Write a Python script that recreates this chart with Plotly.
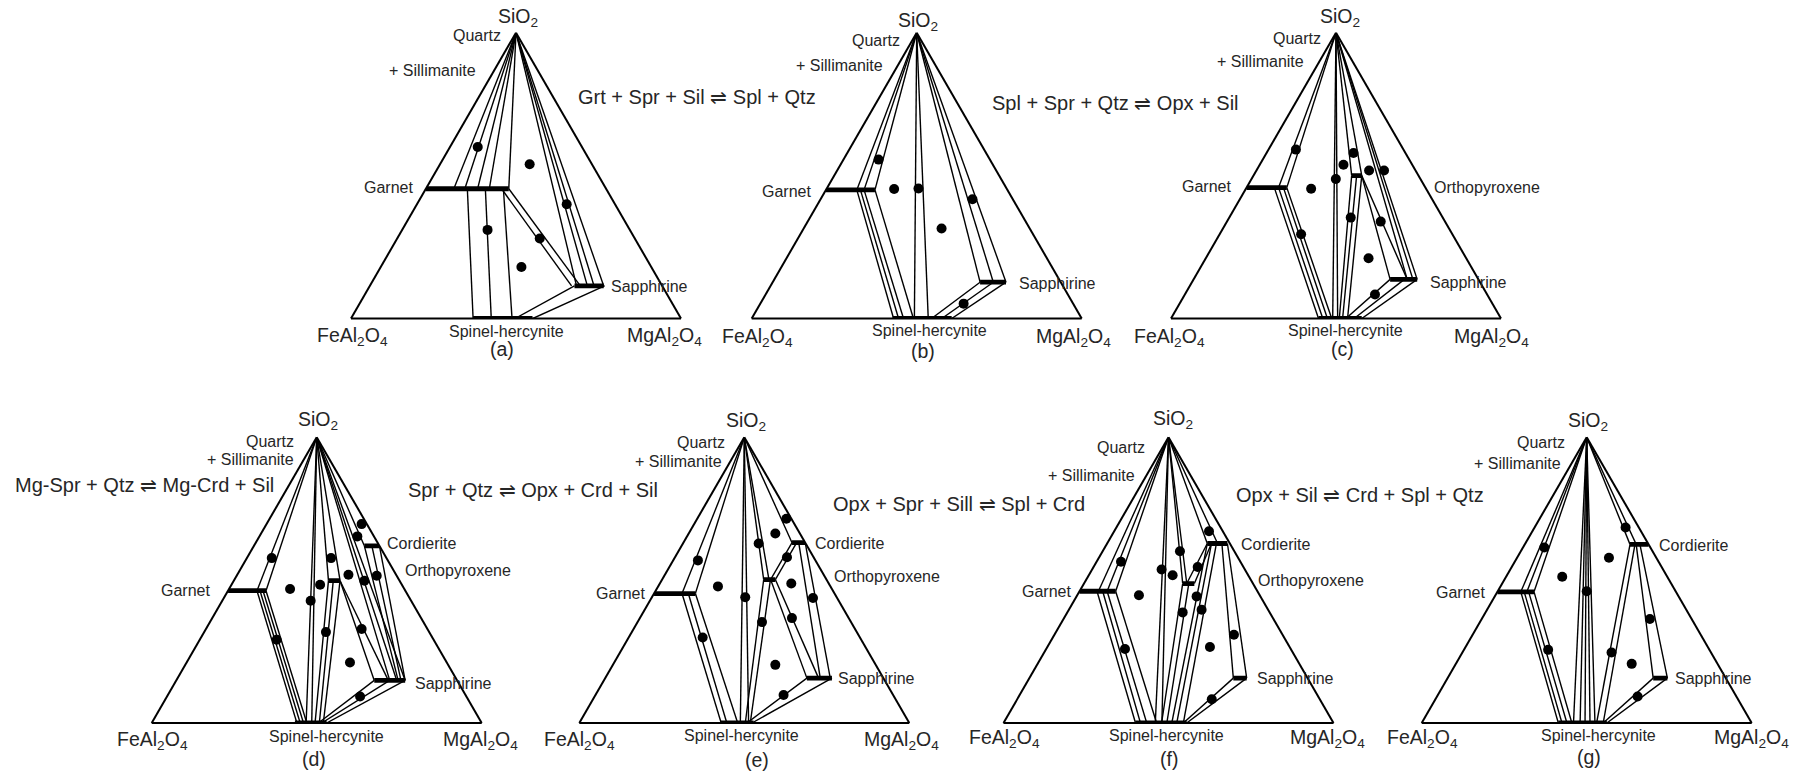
import math
import plotly.graph_objects as go

# ---------------------------------------------------------------------------
# Data. Every composition is given as (SiO2 fraction, XMg = Mg/(Mg+Fe)).
# SiO2 = 1 is the quartz apex.  Bars: (SiO2, XMg from, XMg to) solid solutions.
# Ties: (SiO2_1, XMg_1, SiO2_2, XMg_2) tie lines.  Dots: bulk compositions.
# ---------------------------------------------------------------------------
A_BARS = [(0.454, 0.00, 0.46), (0.0, 0.37, 0.55), (0.114, 0.70, 0.80)]
A_TIES = [
    (1, .5, .454, .155), (1, .5, .454, .216), (1, .5, .454, .287), (1, .5, .454, .352), (1, .5, .454, .46),
    (.454, .23, 0, .37), (.454, .33, 0, .425), (.454, .43, 0, .488),
    (.454, .42, .114, .69), (.454, .46, .114, .72),
    (1, .5, .114, .707), (1, .5, .114, .744), (1, .5, .114, .767), (1, .5, .114, .80),
    (0, .497, .114, .70), (0, .551, .114, .803)]
A_DOT_S = [0.60, 0.54, 0.40, 0.31, 0.28, 0.18]
A_DOT_X = [0.21, 0.59, 0.756, 0.375, 0.60, 0.52]

B_BARS = [(0.45, 0.0, 0.27), (0.0, 0.427, 0.606), (0.127, 0.72, 0.81)]
B_TIES = [
    (1, .5, .45, .17), (1, .5, .45, .21), (1, .5, .45, .27),
    (.45, .17, 0, .43), (.45, .19, 0, .445), (.45, .21, 0, .46), (.45, .27, 0, .49),
    (1, .5, 0, .493), (1, .5, 0, .535),
    (1, .5, .127, .72), (1, .5, .127, .766), (1, .5, .127, .81),
    (0, .545, .127, .72), (0, .576, .127, .766), (0, .606, .127, .81)]
B_DOT_S = [0.556, 0.453, 0.455, 0.417, 0.315, 0.052]
B_DOT_X = [0.24, 0.375, 0.51, 0.79, 0.61, 0.65]

C_BARS = [(0.458, 0, 0.225), (0, 0.447, 0.578), (0.50, 0.595, 0.656), (0.137, 0.69, 0.785)]
C_TIES = [
    (1, .5, .458, .179), (1, .5, .458, .225),
    (.458, .155, 0, .447), (.458, .179, 0, .46), (.458, .206, 0, .474), (.458, .225, 0, .487),
    (1, .5, 0, .49), (1, .5, 0, .505),
    (1, .5, .50, .595), (1, .5, .50, .656),
    (.50, .595, 0, .51), (.50, .625, 0, .52), (.50, .656, 0, .535),
    (.50, .656, .137, .69), (.50, .656, .137, .75),
    (1, .5, .137, .75), (1, .5, .137, .77), (1, .5, .137, .785),
    (0, .53, .137, .69), (0, .555, .137, .74), (0, .578, .137, .785)]
C_DOT_S = [0.591, 0.454, 0.488, 0.538, 0.579, 0.518, 0.518, 0.353, 0.339, 0.295, 0.211, 0.084]
C_DOT_X = [0.203, 0.362, 0.499, 0.549, 0.626, 0.708, 0.802, 0.569, 0.705, 0.35, 0.625, 0.629]

D_BARS = [(0.463, 0, 0.214), (0, 0.434, 0.53), (0.498, 0.571, 0.641), (0.62, 0.88, 1.0), (0.149, 0.705, 0.815)]
D_TIES = [
    (1, .5, .463, .163), (1, .5, .463, .214),
    (.463, .163, 0, .44), (.463, .18, 0, .45), (.463, .197, 0, .46), (.463, .214, 0, .47),
    (1, .5, 0, .468), (1, .5, 0, .485),
    (1, .5, .498, .571), (1, .5, .498, .641),
    (.498, .571, 0, .495), (.498, .60, 0, .508), (.498, .641, 0, .52),
    (.498, .641, .149, .705), (.498, .641, .149, .755),
    (1, .5, .149, .76), (1, .5, .149, .785), (1, .5, .149, .815),
    (1, .5, .62, .88),
    (.62, .88, .149, .79), (.62, .94, .149, .80), (.62, 1.0, .149, .815),
    (0, .505, .149, .705), (0, .515, .149, .76), (0, .53, .149, .815)]
D_DOT_S = [0.696, 0.653, 0.577, 0.519, 0.484, 0.498, 0.515, 0.428, 0.318, 0.329, 0.212, 0.093, 0.577, 0.291, 0.469]
D_DOT_X = [0.948, 0.855, 0.603, 0.70, 0.52, 0.788, 0.875, 0.468, 0.541, 0.703, 0.628, 0.645, 0.178, 0.329, 0.348]

E_BARS = [(0.453, 0, 0.229), (0, 0.427, 0.528), (0.502, 0.618, 0.689), (0.631, 0.892, 1.0), (0.157, 0.725, 0.815)]
E_TIES = [
    (1, .5, .453, .155), (1, .5, .453, .229),
    (.453, .155, 0, .43), (.453, .19, 0, .447), (.453, .229, 0, .48),
    (1, .5, 0, .488), (1, .5, 0, .513),
    (1, .5, .502, .618), (1, .5, .502, .65),
    (.502, .618, 0, .503), (.502, .659, 0, .518),
    (.502, .66, .631, .892), (.502, .689, .631, .93),
    (.502, .66, .157, .725), (.502, .689, .157, .767),
    (.631, .947, .157, .773), (.631, 1.0, .157, .809),
    (1, .5, .631, .892),
    (0, .508, .157, .725), (0, .523, .157, .815)]
E_DOT_S = [0.715, 0.663, 0.628, 0.58, 0.488, 0.44, 0.4375, 0.353, 0.367, 0.2035, 0.098, 0.569, 0.478, 0.299]
E_DOT_X = [0.947, 0.779, 0.617, 0.808, 0.778, 0.505, 0.87, 0.583, 0.728, 0.618, 0.632, 0.174, 0.347, 0.32]

F_BARS = [(0.461, 0, 0.203), (0, 0.40, 0.555), (0.488, 0.584, 0.653), (0.628, 0.816, 0.98), (0.157, 0.733, 0.781)]
F_TIES = [
    (1, .5, .461, .106), (1, .5, .461, .155), (1, .5, .461, .203),
    (.461, .098, 0, .40), (.461, .13, 0, .415), (.461, .155, 0, .434), (.461, .203, 0, .464),
    (1, .5, 0, .46), (1, .5, 0, .48),
    (1, .5, .488, .584), (1, .5, .488, .608),
    (.488, .584, 0, .479), (.488, .62, 0, .495),
    (.488, .608, .628, .816), (.488, .653, .628, .85),
    (.628, .816, 0, .51), (.628, .85, 0, .525), (.628, .89, 0, .545),
    (1, .5, .628, .816), (1, .5, .628, .90),
    (.628, .935, .157, .733), (.628, .98, .157, .781),
    (0, .545, .157, .733), (0, .555, .157, .781)]
F_DOT_S = [0.671, 0.601, 0.537, 0.517, 0.546, 0.443, 0.387, 0.396, 0.309, 0.266, 0.083, 0.564, 0.447, 0.259]
F_DOT_X = [0.873, 0.587, 0.455, 0.526, 0.695, 0.653, 0.57, 0.666, 0.787, 0.671, 0.643, 0.17, 0.338, 0.322]

G_BARS = [(0.459, 0, 0.205), (0, 0.414, 0.561), (0.625, 0.85, 1.0), (0.157, 0.739, 0.79)]
G_TIES = [
    (1, .5, .459, .131), (1, .5, .459, .165), (1, .5, .459, .205),
    (.459, .131, 0, .414), (.459, .15, 0, .425), (.459, .175, 0, .44), (.459, .205, 0, .455),
    (1, .5, 0, .46), (1, .5, 0, .48), (1, .5, 0, .495), (1, .5, 0, .51), (1, .5, 0, .525),
    (.625, .85, 0, .53), (.625, .89, 0, .55),
    (1, .5, .625, .85), (1, .5, .625, .90),
    (.625, .90, .157, .739), (.625, .93, .157, .79),
    (0, .55, .157, .739), (0, .561, .157, .79)]
G_DOT_S = [0.684, 0.5785, 0.461, 0.364, 0.247, 0.207, 0.0925, 0.614, 0.512, 0.256]
G_DOT_X = [0.873, 0.66, 0.50, 0.801, 0.60, 0.672, 0.67, 0.167, 0.348, 0.343]

REACTIONS = ["Grt + Spr + Sil \u21cc Spl + Qtz",
             "Spl + Spr + Qtz \u21cc Opx + Sil",
             "Mg-Spr + Qtz \u21cc Mg-Crd + Sil",
             "Spr + Qtz \u21cc Opx + Crd + Sil",
             "Opx + Spr + Sill \u21cc Spl + Crd",
             "Opx + Sil \u21cc Crd + Spl + Qtz"]
PANEL_TAGS = ["(a)", "(b)", "(c)", "(d)", "(e)", "(f)", "(g)"]

# ---------------------------------------------------------------------------
# Layout (pixels of the 1803 x 775 page)
# ---------------------------------------------------------------------------
FIG_W, FIG_H = 1803, 775
SIDE = 330.0
TRI_H = SIDE * math.sqrt(3) / 2
PANEL_CX = [516, 916.7, 1336, 316.7, 744.3, 1168.5, 1586.7]
PANEL_BASE = [318.5, 318.5, 318.5, 723, 723, 723, 723]

PANELS = [
    (A_BARS, A_TIES, A_DOT_S, A_DOT_X),
    (B_BARS, B_TIES, B_DOT_S, B_DOT_X),
    (C_BARS, C_TIES, C_DOT_S, C_DOT_X),
    (D_BARS, D_TIES, D_DOT_S, D_DOT_X),
    (E_BARS, E_TIES, E_DOT_S, E_DOT_X),
    (F_BARS, F_TIES, F_DOT_S, F_DOT_X),
    (G_BARS, G_TIES, G_DOT_S, G_DOT_X),
]


def abc(s, x):
    """SiO2 fraction + XMg -> (SiO2, FeAl2O4, MgAl2O4)."""
    return s, (1 - s) * (1 - x), (1 - s) * x


def segs(pairs):
    a, b, c = [], [], []
    for p, q in pairs:
        for pt in (p, q):
            aa, bb, cc = abc(*pt)
            a.append(aa); b.append(bb); c.append(cc)
        a.append(None); b.append(None); c.append(None)
    return a, b, c


fig = go.Figure()
axis_style = dict(showline=True, linecolor="black", linewidth=2, showgrid=False,
                  showticklabels=False, ticks="", title=dict(text=""), min=0)
layout_ternaries = {}

for i, (bars, ties, ds, dx) in enumerate(PANELS):
    key = "ternary" if i == 0 else f"ternary{i + 1}"
    cx, yb = PANEL_CX[i], PANEL_BASE[i]
    layout_ternaries[key] = dict(
        domain=dict(x=[(cx - SIDE / 2) / FIG_W, (cx + SIDE / 2) / FIG_W],
                    y=[1 - yb / FIG_H, 1 - (yb - TRI_H) / FIG_H]),
        sum=1, bgcolor="white",
        aaxis=axis_style, baxis=axis_style, caxis=axis_style)

    ta, tb, tc = segs([((t[0], t[1]), (t[2], t[3])) for t in ties])
    fig.add_trace(go.Scatterternary(a=ta, b=tb, c=tc, mode="lines", subplot=key,
                                    line=dict(color="black", width=1.4),
                                    cliponaxis=False, hoverinfo="skip"))
    ba, bb, bc = segs([((t[0], t[1]), (t[0], t[2])) for t in bars])
    fig.add_trace(go.Scatterternary(a=ba, b=bb, c=bc, mode="lines", subplot=key,
                                    line=dict(color="black", width=4.8),
                                    cliponaxis=False, hoverinfo="skip"))
    pa, pb, pc = zip(*[abc(s, x) for s, x in zip(ds, dx)])
    fig.add_trace(go.Scatterternary(a=list(pa), b=list(pb), c=list(pc), mode="markers",
                                    subplot=key, marker=dict(color="black", size=10),
                                    cliponaxis=False, hoverinfo="skip"))

FONT = "Liberation Sans, Arial, Helvetica, sans-serif"
TXT = "#262626"
annotations = []


def lab(text, x, y, size, anchor="center"):
    annotations.append(dict(text=text, x=x / FIG_W, y=1 - y / FIG_H, xref="paper", yref="paper",
                            xanchor=anchor, yanchor="middle", showarrow=False,
                            font=dict(family=FONT, size=size, color=TXT)))


SIO2 = "SiO<sub>2</sub>"
FEAL = "FeAl<sub>2</sub>O<sub>4</sub>"
MGAL = "MgAl<sub>2</sub>O<sub>4</sub>"
BIG, SMALL, REAC = 19.5, 16, 20

# per-panel label placement (page pixels)
SIO2_POS = [(518, 18), (918, 21), (1340, 18), (318, 420), (746, 421), (1173, 419), (1588, 421)]
QTZ_POS = [(503, 35), (902, 40), (1323, 38), (296, 441), (727, 442), (1147, 447), (1567, 442)]
SIL_POS = [(478, 70), (885, 65), (1306, 61), (296, 459), (724, 461), (1137, 476), (1563, 463)]
GRT_POS = [(415, 187), (813, 191), (1233, 186), (212, 590), (647, 593), (1073, 591), (1487, 592)]
SPR_POS = [(609, 286), (1017, 283), (1428, 282), (413, 683), (836, 678), (1255, 678), (1673, 678)]
SPL_POS = [(507, 331), (929, 330), (1345, 330), (326, 736), (741, 735), (1166, 735), (1598, 735)]
FE_POS = [(352, 336), (757, 337), (1169, 337), (152, 740), (579, 740), (1005, 738), (1422, 738)]
MG_POS = [(664, 336), (1073, 337), (1491, 337), (480, 740), (901, 740), (1327, 738), (1751, 738)]
TAG_POS = [(502, 349), (923, 351), (1342, 349), (314, 759), (757, 760), (1169, 759), (1589, 757)]
CRD_POS = [None, None, None, (385, 543), (813, 543), (1239, 544), (1657, 545)]
OPX_POS = [None, None, (1432, 187), (403, 570), (832, 576), (1256, 580), None]
REAC_POS = [(697, 97), (1115, 103), (144, 485), (533, 490), (959, 504), (1360, 495)]

for i in range(7):
    lab(SIO2, *SIO2_POS[i], BIG)
    lab("Quartz", *QTZ_POS[i], SMALL, "right")
    lab("+ Sillimanite", *SIL_POS[i], SMALL, "right")
    lab("Garnet", *GRT_POS[i], SMALL, "right")
    lab("Sapphirine", *SPR_POS[i], SMALL, "left")
    lab("Spinel-hercynite", *SPL_POS[i], SMALL)
    lab(FEAL, *FE_POS[i], BIG)
    lab(MGAL, *MG_POS[i], BIG)
    lab(PANEL_TAGS[i], *TAG_POS[i], BIG)
    if CRD_POS[i]:
        lab("Cordierite", *CRD_POS[i], SMALL, "left")
    if OPX_POS[i]:
        lab("Orthopyroxene", *OPX_POS[i], SMALL, "left")

for txt, pos in zip(REACTIONS, REAC_POS):
    lab(txt, *pos, REAC)

fig.update_layout(width=FIG_W, height=FIG_H, margin=dict(l=0, r=0, t=0, b=0),
                  paper_bgcolor="white", plot_bgcolor="white", showlegend=False,
                  hovermode=False, annotations=annotations, **layout_ternaries)

# the page's default 8px body margin would shift the whole figure; remove it
fig.write_html("out.html", config={"displayModeBar": False},
               post_script="document.body.style.margin='0px';")
